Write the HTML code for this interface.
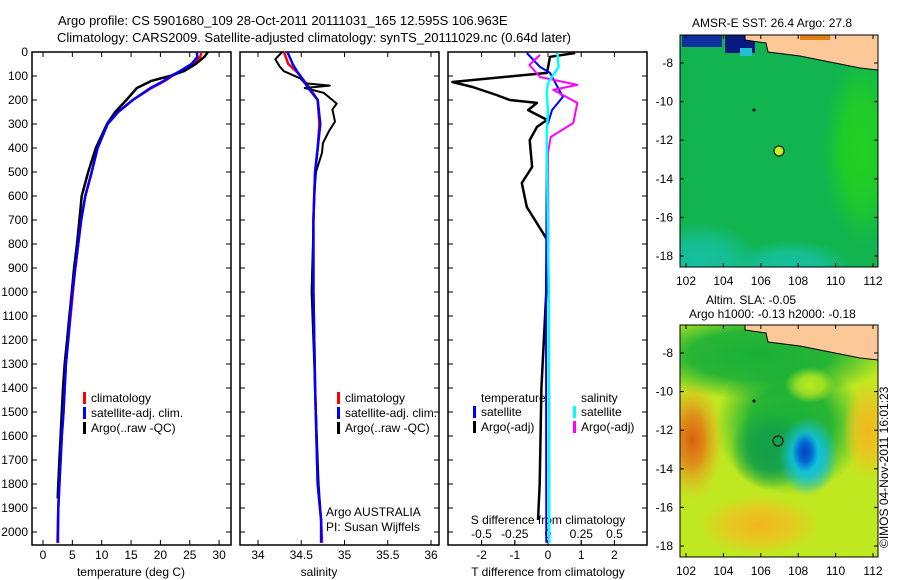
<!DOCTYPE html>
<html><head><meta charset="utf-8"><style>
body{margin:0;background:#fff}
svg{display:block;font-family:"Liberation Sans",sans-serif}
text{font-size:12px;fill:#000}
</style></head><body>
<svg id="fig" width="900" height="580" viewBox="0 0 900 580">
<defs>
<radialGradient id="gTeal"><stop offset="0" stop-color="#16c0a0"/><stop offset="0.5" stop-color="#16c0a0" stop-opacity="0.8"/><stop offset="1" stop-color="#16c0a0" stop-opacity="0"/></radialGradient>
<radialGradient id="gLime"><stop offset="0" stop-color="#22d020"/><stop offset="0.5" stop-color="#22d020" stop-opacity="0.8"/><stop offset="1" stop-color="#22d020" stop-opacity="0"/></radialGradient>
<radialGradient id="gG1"><stop offset="0" stop-color="#18b038"/><stop offset="0.55" stop-color="#18b038" stop-opacity="0.9"/><stop offset="1" stop-color="#18b038" stop-opacity="0"/></radialGradient>
<radialGradient id="gG2"><stop offset="0" stop-color="#14a048"/><stop offset="0.5" stop-color="#14a048" stop-opacity="0.9"/><stop offset="1" stop-color="#14a048" stop-opacity="0"/></radialGradient>
<radialGradient id="gCyan"><stop offset="0" stop-color="#10b8e8"/><stop offset="0.5" stop-color="#10c0e0" stop-opacity="0.9"/><stop offset="1" stop-color="#10c0e0" stop-opacity="0"/></radialGradient>
<radialGradient id="gBlue"><stop offset="0" stop-color="#0040c0"/><stop offset="0.5" stop-color="#0060d0" stop-opacity="0.9"/><stop offset="1" stop-color="#0060d0" stop-opacity="0"/></radialGradient>
<radialGradient id="gOr"><stop offset="0" stop-color="#d86010"/><stop offset="0.4" stop-color="#e08818" stop-opacity="0.95"/><stop offset="1" stop-color="#f0b020" stop-opacity="0"/></radialGradient>
<radialGradient id="gYel"><stop offset="0" stop-color="#f0b820"/><stop offset="0.5" stop-color="#f0c020" stop-opacity="0.8"/><stop offset="1" stop-color="#f0c020" stop-opacity="0"/></radialGradient>
<radialGradient id="gYG"><stop offset="0" stop-color="#b8e820"/><stop offset="0.5" stop-color="#b8e820" stop-opacity="0.8"/><stop offset="1" stop-color="#b8e820" stop-opacity="0"/></radialGradient>
<clipPath id="c1"><rect x="680" y="35" width="198" height="232"/></clipPath>
<clipPath id="c2"><rect x="680" y="325" width="198" height="232"/></clipPath>
</defs>
<text x="58" y="25" style="font-size:13px">Argo profile: CS 5901680_109 28-Oct-2011 20111031_165 12.595S 106.963E</text>
<text x="57" y="42" style="font-size:13px">Climatology: CARS2009. Satellite-adjusted climatology: synTS_20111029.nc (0.64d later)</text>

<!-- SST map -->
<g>
<text x="692" y="27">AMSR-E SST: 26.4  Argo: 27.8</text>
<g clip-path="url(#c1)">
<rect x="680" y="35" width="198" height="232" fill="#12b450"/>
<ellipse cx="700" cy="262" rx="60" ry="40" fill="url(#gTeal)"/>
<ellipse cx="790" cy="265" rx="60" ry="25" fill="url(#gTeal)"/>
<ellipse cx="862" cy="150" rx="40" ry="95" fill="url(#gLime)"/>
<rect x="682" y="35" width="40" height="12" fill="#1030a0"/>
<rect x="725" y="35" width="30" height="18" fill="#0a1a80"/>
<rect x="740" y="48" width="12" height="8" fill="#20c0d0"/>
<polygon points="745,35 745,40 766,43 768,52 800,56 820,60 840,64 860,68 878,70 878,35" fill="#fcc898" stroke="#000" stroke-width="1"/>
<rect x="800" y="35" width="30" height="5" fill="#e08010"/>
</g>
<rect x="680" y="35" width="198" height="232" fill="none" stroke="#000"/>
<circle cx="779" cy="151" r="5" fill="#c8f020" stroke="#000"/>
<circle cx="754" cy="110" r="1.5" fill="#000"/>
</g>
<!-- SLA map -->
<g>
<text x="706" y="304">Altim. SLA: -0.05</text>
<text x="689" y="318">Argo h1000: -0.13 h2000: -0.18</text>
<g clip-path="url(#c2)">
<rect x="680" y="325" width="198" height="232" fill="#c0e820"/>
<ellipse cx="760" cy="355" rx="130" ry="45" fill="url(#gG1)"/>
<ellipse cx="790" cy="425" rx="75" ry="70" fill="url(#gG1)"/>
<ellipse cx="770" cy="450" rx="40" ry="40" fill="url(#gG2)"/>
<ellipse cx="808" cy="456" rx="30" ry="40" fill="url(#gCyan)"/>
<ellipse cx="805" cy="452" rx="13" ry="20" fill="url(#gBlue)"/>
<ellipse cx="692" cy="440" rx="32" ry="60" fill="url(#gOr)"/>
<ellipse cx="868" cy="430" rx="25" ry="50" fill="url(#gYel)"/>
<ellipse cx="760" cy="525" rx="60" ry="30" fill="url(#gYel)"/>
<ellipse cx="810" cy="385" rx="25" ry="18" fill="url(#gYG)"/>
<polygon points="745,325 745,330 766,333 768,342 800,346 820,350 840,354 860,358 878,360 878,325" fill="#fcc898" stroke="#000" stroke-width="1"/>
</g>
<rect x="680" y="325" width="198" height="232" fill="none" stroke="#000"/>
<circle cx="778" cy="441" r="5" fill="none" stroke="#000"/>
<circle cx="754" cy="401" r="1.5" fill="#000"/>
<text x="888" y="548" transform="rotate(-90 888 548)">©IMOS 04-Nov-2011 16:01:23</text>
</g>
<g id="maps-axes"></g>
<g id="charts"></g>
</svg>
<script>
// ---- data ----
const tempDepths=[0,20,50,80,100,120,150,200,250,300,400,500,600,700,800,900,1000,1100,1200,1300,1400,1500,1600,1700,1800,1900,2000,2045];
const tempClim=[27.0,26.8,25.5,23.5,22,20.8,18.5,15.3,12.8,11,9.3,8.3,7.2,6.5,6.0,5.5,5.1,4.7,4.3,3.9,3.7,3.5,3.2,3.0,2.8,2.6,2.5,2.45];
const tempSat=[26.2,26.3,25.3,23.3,21.8,20.6,18.3,15.3,12.8,11,9.3,8.3,7.2,6.5,6.0,5.5,5.0,4.6,4.3,3.9,3.7,3.5,3.2,3.0,2.8,2.6,2.55,2.55];
const argoTDepths=[0,20,50,80,100,120,150,200,250,300,400,500,600,700,800,900,1000,1100,1200,1300,1400,1500,1600,1700,1800,1860];
const argoTemp=[28.1,27.5,26,24,21.6,18.5,16,14.2,12.3,10.9,9.0,7.7,6.6,6.2,5.8,5.3,4.9,4.5,4.1,3.7,3.4,3.2,3.0,2.8,2.6,2.5];
const salDepths=[0,40,50,80,100,150,200,300,400,500,700,1000,1400,1800,1950,2045];
const salClim=[34.30,34.34,34.35,34.44,34.49,34.60,34.69,34.71,34.69,34.66,34.64,34.64,34.66,34.69,34.73,34.74];
const salSat=[34.34,34.39,34.40,34.45,34.49,34.58,34.69,34.72,34.69,34.66,34.64,34.64,34.66,34.69,34.73,34.73];
const argoSDepths=[0,30,60,80,110,130,140,150,170,215,240,290,330,380,420,500,600,1000,1400,1800,1900];
const argoSal=[34.28,34.20,34.25,34.30,34.49,34.54,34.83,34.54,34.76,34.91,34.86,34.89,34.82,34.75,34.74,34.67,34.65,34.62,34.66,34.70,34.72];
const dTDepths=[4,20,87,125,146,179,200,212,242,283,312,367,479,546,646,754,783,1000,1400,1800,1950];
const dTArgo=[0.82,0.06,-0.03,-2.88,-2.27,-1.55,-1.15,-0.33,-0.6,-0.03,-0.33,-0.55,-0.48,-0.79,-0.64,-0.15,-0.03,-0.05,-0.2,-0.25,-0.3];
const dTSatDepths=[4,62,87,187,242,312,1000,2045];
const dTSat=[-0.64,-0.24,0.06,0.45,0.12,-0.03,-0.06,-0.05];
const dSArgoDepths=[12,54,104,137,158,212,296,354,421,1000,1500,2000];
const dSArgo=[-0.06,-0.14,-0.06,0.22,0.04,0.22,0.19,0.02,0.0,0.005,0.01,0.01];
const dSSatDepths=[4,62,129,171,250,340,1000,2045];
const dSSat=[0.07,0.08,0.0,-0.01,0.0,-0.01,0.005,0.01];
const depthTicks=[0,100,200,300,400,500,600,700,800,900,1000,1100,1200,1300,1400,1500,1600,1700,1800,1900,2000];
const tempTicks=[0,5,10,15,20,25,30];
const salTicks=[34,34.5,35,35.5,36];
const dTTicks=[-2,-1,0,1,2];
const dSTicks=[-0.5,-0.25,0,0.25,0.5];
const latTicks=[-8,-10,-12,-14,-16,-18];
const lonTicks=[102,104,106,108,110,112];

// ---- axis functions ----
const NS='http://www.w3.org/2000/svg';
const fig=document.getElementById('charts');
const Y=d=>52+d*0.24;
const XT=v=>43+v*5.87;
const XS=v=>258+(v-34)*86.5;
const XdT=v=>548+v*33.2;
const XdS=v=>548+v*133;
function mk(tag,attrs,parent){const e=document.createElementNS(NS,tag);for(const k in attrs)e.setAttribute(k,attrs[k]);(parent||fig).appendChild(e);return e;}
function txt(x,y,s,anchor,parent){const t=mk('text',{x:x,y:y,'text-anchor':anchor||'start'},parent);t.textContent=s;return t;}
function line(depths,vals,X,color,name,w){
  let d='';
  for(let i=0;i<depths.length;i++)d+=(i?'L':'M')+X(vals[i]).toFixed(1)+','+Y(depths[i]).toFixed(1);
  const p=mk('path',{d:d,fill:'none',stroke:color,'stroke-width':w||2.5,'stroke-linejoin':'round'});
  
  
}
function panel(x0,x1,name){
  const r=mk('rect',{x:x0,y:52,width:x1-x0,height:493,fill:'none',stroke:'#000','stroke-width':1.5});
  
  
  depthTicks.forEach(d=>{mk('line',{x1:x0,x2:x0+5,y1:Y(d),y2:Y(d),stroke:'#000'});mk('line',{x1:x1-5,x2:x1,y1:Y(d),y2:Y(d),stroke:'#000'});});
}
function xticks(ticks,X,y,labels,top){
  ticks.forEach((v,i)=>{
    const x=X(v);
    mk('line',{x1:x,x2:x,y1:545,y2:540,stroke:'#000'});
    if(top)mk('line',{x1:x,x2:x,y1:52,y2:57,stroke:'#000'});
    const t=txt(x,y,labels?labels[i]:String(v),'middle');
    
    
  });
}
// panel 1
panel(32,231,'temperature-panel');
depthTicks.forEach(d=>{const t=txt(28,Y(d)+4,String(d),'end');});
xticks(tempTicks,XT,559,null,true);
let t=txt(131,576,'temperature (deg C)','middle');
line(tempDepths,tempClim,XT,'#f00','temp-climatology-line');
line(argoTDepths,argoTemp,XT,'#000','temp-argo-line');
line(tempDepths,tempSat,XT,'#00f','temp-satellite-line');
function legend(x,y,items,name){
  items.forEach((it,i)=>{
    mk('rect',{x:x,y:y+i*15-10,width:3,height:12,fill:it[0]});
    const tt=txt(x+8,y+i*15,it[1]);
    
    
  });
}
legend(83,402,[['#f00','climatology'],['#00f','satellite-adj. clim.'],['#000','Argo(..raw -QC)']],'legend-temp');
// panel 2
panel(240,439,'salinity-panel');
xticks(salTicks,XS,559,['34','34.5','35','35.5','36'],true);
t=txt(319,576,'salinity','middle');
line(salDepths,salClim,XS,'#f00','sal-climatology-line');
line(argoSDepths,argoSal,XS,'#000','sal-argo-line',2);
line(salDepths,salSat,XS,'#00f','sal-satellite-line');
legend(337,402,[['#f00','climatology'],['#00f','satellite-adj. clim.'],['#000','Argo(..raw -QC)']],'legend-sal');
t=txt(326,516,'Argo AUSTRALIA');
t=txt(326,531,'PI: Susan Wijffels');
// panel 3
panel(448,647,'difference-panel');
xticks(dTTicks,XdT,559,null,true);
xticks(dSTicks,XdS,538,['-0.5','-0.25','0','0.25','0.5'],false);
t=txt(548,524,'S difference from climatology','middle');
t=txt(548,576,'T difference from climatology','middle');
line(dTDepths,dTArgo,XdT,'#000','t-diff-argo-line');
line(dTSatDepths,dTSat,XdT,'#00f','t-diff-satellite-line',2);
line(dSArgoDepths,dSArgo,XdS,'#f0f','s-diff-argo-line',2);
line(dSSatDepths,dSSat,XdS,'#0ff','s-diff-satellite-line',2.5);
t=txt(481,402,'temperature');
t=txt(581,402,'salinity');
legend(473,416,[['#00f','satellite'],['#000','Argo(-adj)']],'legend-tdiff');
legend(573,416,[['#0ff','satellite'],['#f0f','Argo(-adj)']],'legend-sdiff');
// map axes
const mg=document.getElementById('maps-axes');
function mapAxes(top,lat0y,lon0x,name){
  latTicks.forEach(v=>{const y=lat0y+(-8-v)*19.3;mk('line',{x1:680,x2:684,y1:y,y2:y,stroke:'#000'},mg);mk('line',{x1:874,x2:878,y1:y,y2:y,stroke:'#000'},mg);const tt=txt(673,y+4,String(v),'end',mg);});
  lonTicks.forEach(v=>{const x=lon0x+(v-102)*18.7;mk('line',{x1:x,x2:x,y1:top,y2:top+4,stroke:'#000'},mg);mk('line',{x1:x,x2:x,y1:top+228,y2:top+232,stroke:'#000'},mg);const tt=txt(x,top+250,String(v),'middle',mg);});
}
mapAxes(35,63,686,'sst-map');
mapAxes(325,353,686,'sla-map');
</script>
</body></html>
